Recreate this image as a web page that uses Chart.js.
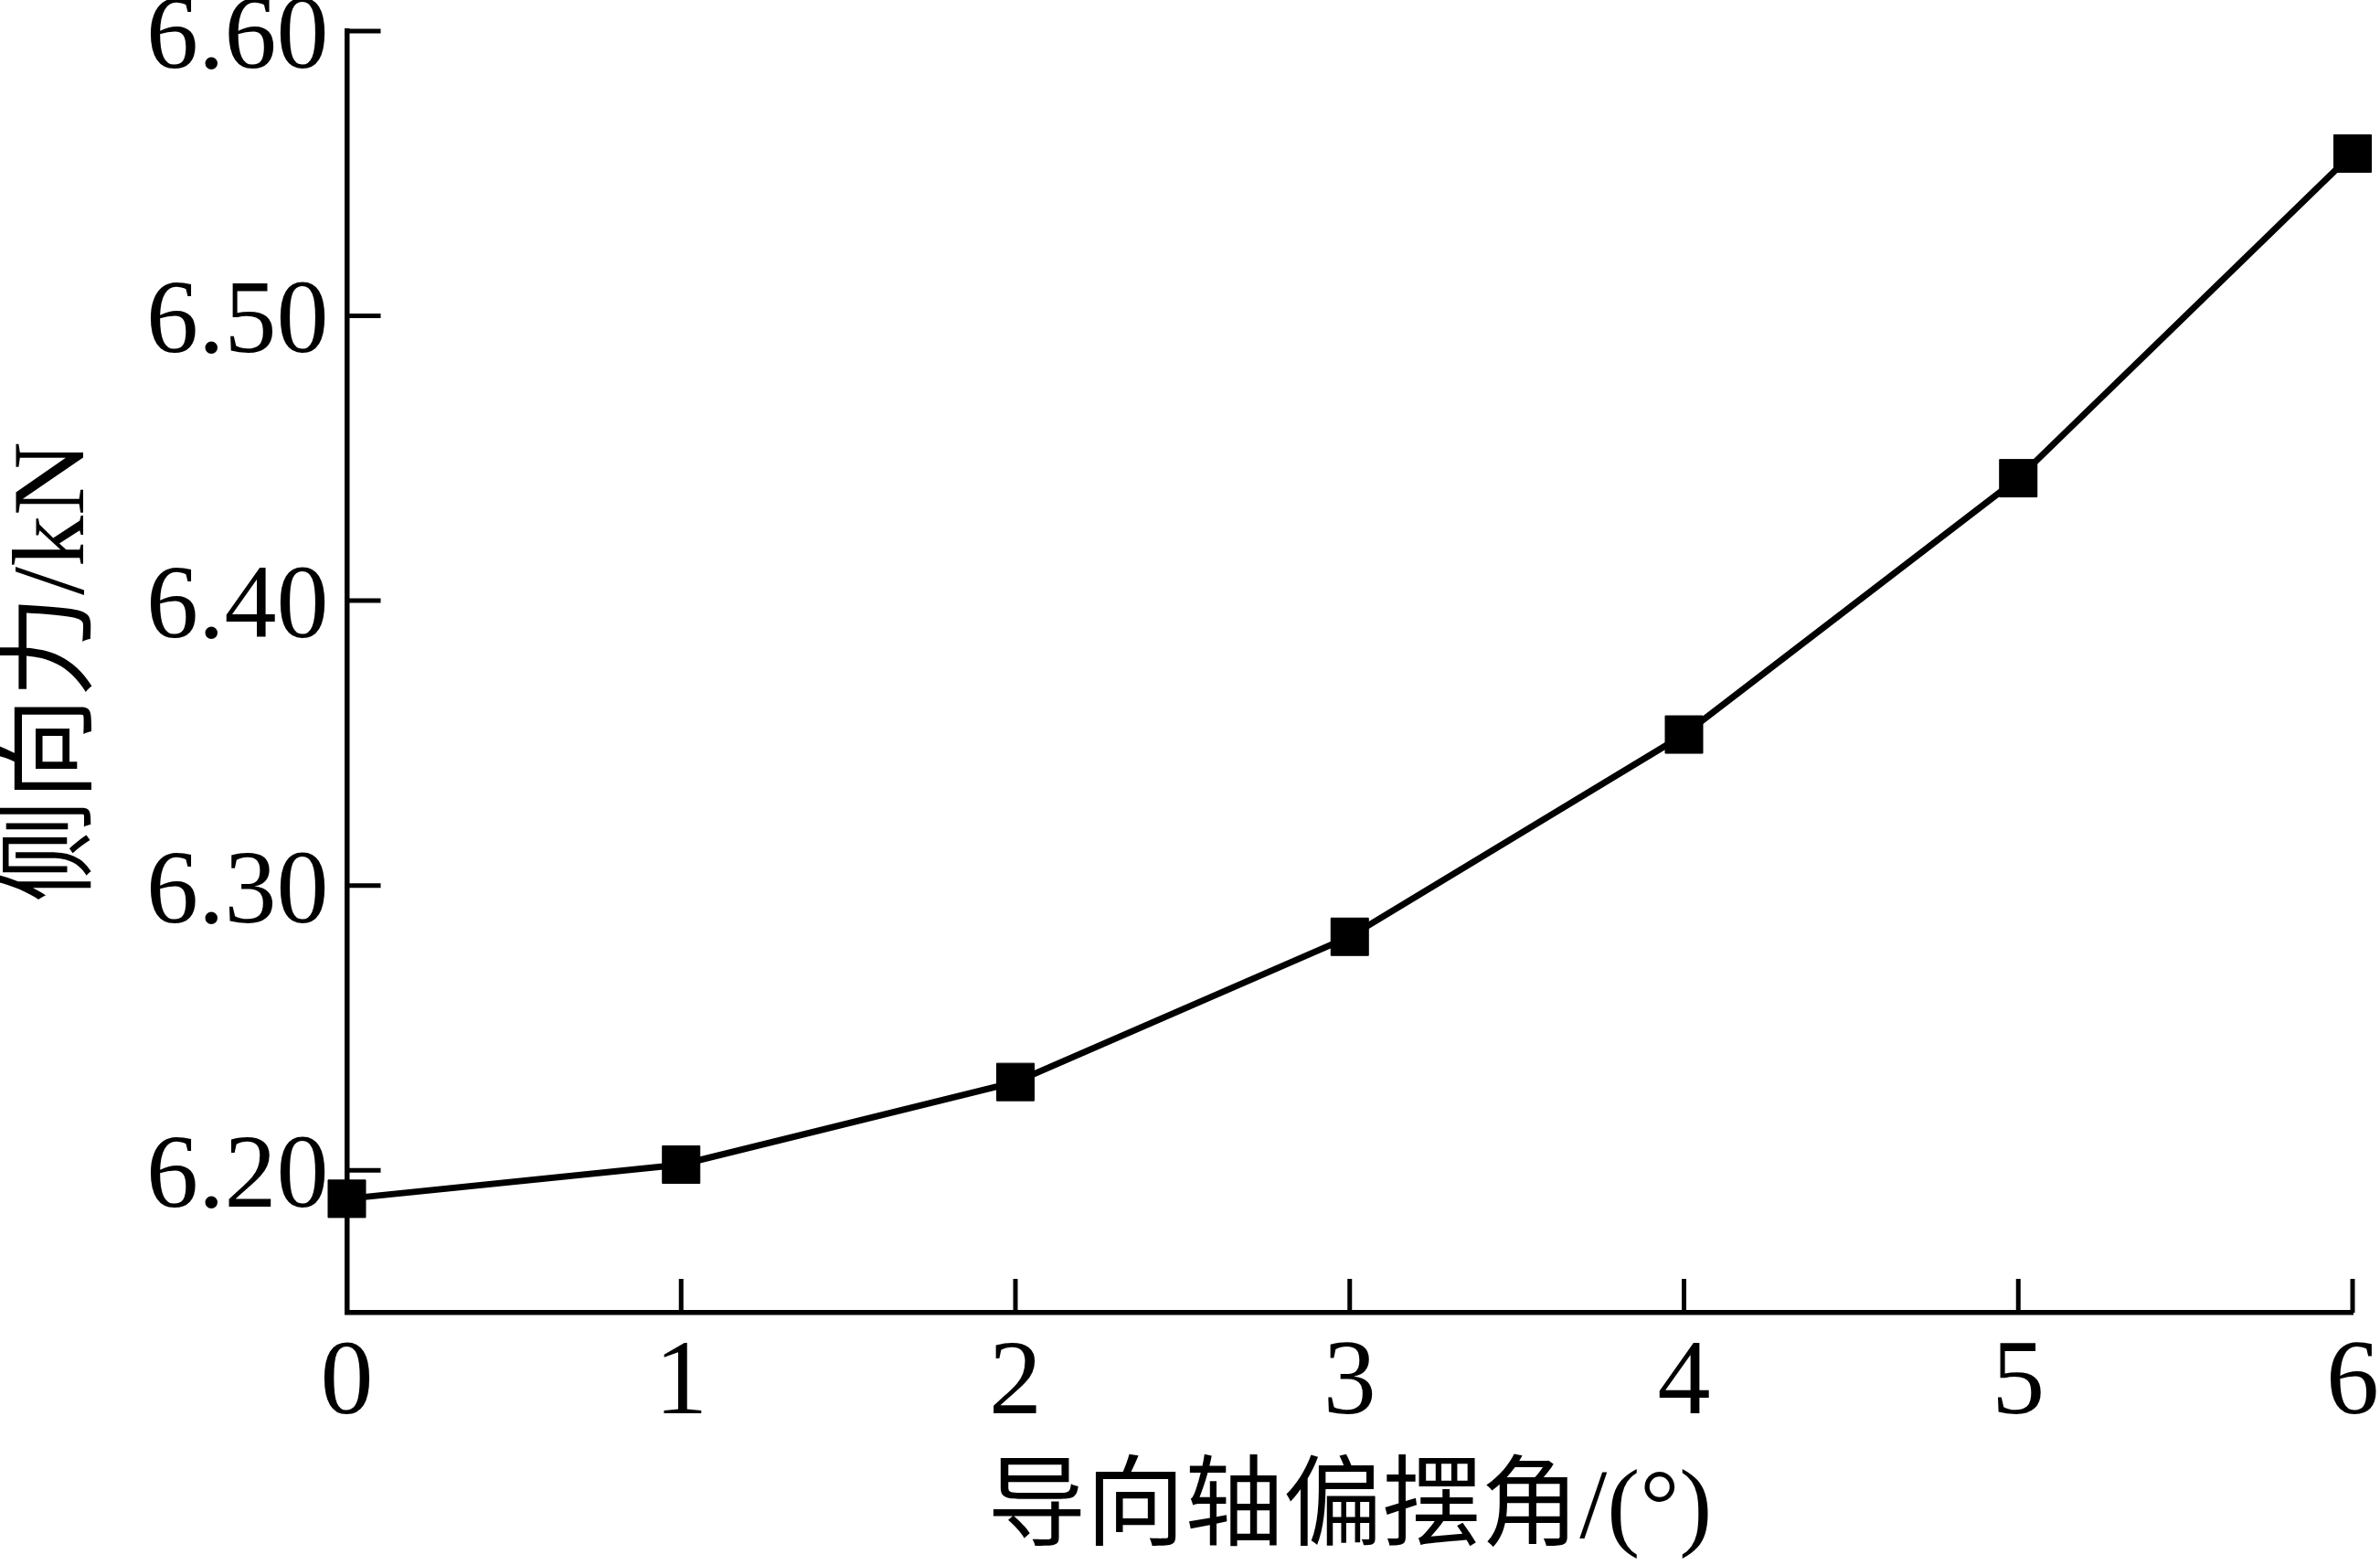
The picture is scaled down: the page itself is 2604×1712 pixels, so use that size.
<!DOCTYPE html>
<html>
<head>
<meta charset="utf-8">
<script src="https://cdn.jsdelivr.net/npm/chart.js@4"></script>
<style>
  html, body { margin: 0; padding: 0; background: #fff; }
  #wrap { width: 2604px; height: 1712px; }
</style>
</head>
<body>
<div id="wrap"><canvas id="chart"></canvas></div>
<script>
    /* --------------- Data --------------------- */
    const angles = [0, 1, 2, 3, 4, 5, 6];
    const sideForce = [6.190, 6.202, 6.231, 6.282, 6.353, 6.443, 6.557];
    const yTicks = [6.20, 6.30, 6.40, 6.50, 6.60];
    const xTitle = "导向轴偏摆角/(°)";
    const yTitle = "侧向力/kN";

    const FONT = '"Liberation Serif", "Times New Roman", "Noto Sans CJK SC", serif';

    /* --------------- Inward ticks --------------------- */
    const innerTicks = {
      id: "innerTicks",
      beforeDatasetsDraw(chart) {
        const ctx = chart.ctx;
        const xs = chart.scales.x, ys = chart.scales.y;
        const area = chart.chartArea;
        ctx.save();
        ctx.strokeStyle = "#000";
        ctx.lineWidth = 5;
        xs.ticks.forEach((t) => {
          const px = xs.getPixelForValue(t.value);
          ctx.beginPath();
          ctx.moveTo(px, area.bottom);
          ctx.lineTo(px, area.bottom - 37);
          ctx.stroke();
        });
        ys.ticks.forEach((t) => {
          const py = ys.getPixelForValue(t.value);
          ctx.beginPath();
          ctx.moveTo(area.left, py);
          ctx.lineTo(area.left + 37, py);
          ctx.stroke();
        });
        ctx.restore();
      },
    };

    /* --------------- Chart --------------------- */
    new Chart(document.getElementById("chart"), {
      type: "line",
      plugins: [innerTicks],
      data: {
        datasets: [
          {
            data: angles.map((a, i) => ({ x: a, y: sideForce[i] })),
            borderColor: "#000",
            backgroundColor: "#000",
            borderWidth: 7,
            pointStyle: "rect",
            pointRadius: 29,
            pointBorderWidth: 1,
            pointBackgroundColor: "#000",
            pointBorderColor: "#000",
            tension: 0,
            clip: false,
          },
        ],
      },
      options: {
        responsive: true,
        maintainAspectRatio: false,
        animation: false,
        layout: { padding: { top: 4, right: 0, left: 6, bottom: 4 } },
        plugins: {
          legend: { display: false },
          tooltip: { enabled: false },
        },
        scales: {
          x: {
            type: "linear",
            min: 0,
            max: 6,
            afterFit: (scale) => {
              scale.paddingRight = 29;
            },
            grid: { display: true, drawOnChartArea: false, drawTicks: false },
            border: { display: true, color: "#000", width: 5.5 },
            ticks: {
              stepSize: 1,
              color: "#000",
              padding: 22,
              font: { family: FONT, size: 116, lineHeight: 1.0 },
            },
            title: {
              display: true,
              text: xTitle,
              color: "#000",
              padding: { top: 4, bottom: 0 },
              font: { family: FONT, size: 108, lineHeight: 1.0 },
            },
          },
          y: {
            type: "linear",
            min: 6.15,
            max: 6.60,
            afterBuildTicks: (scale) => {
              scale.ticks = yTicks.map((v) => ({ value: v }));
            },
            afterFit: (scale) => {
              scale.paddingTop = 34;
            },
            grid: { display: true, drawOnChartArea: false, drawTicks: false },
            border: { display: true, color: "#000", width: 5.5 },
            ticks: {
              color: "#000",
              padding: 20,
              labelOffset: 10,
              font: { family: FONT, size: 114, lineHeight: 0.5 },
              callback: (v) => Number(v).toFixed(2),
            },
            title: {
              display: true,
              text: yTitle,
              color: "#000",
              padding: { top: 0, bottom: 22 },
              font: { family: FONT, size: 112, lineHeight: 1.0 },
            },
          },
        },
      },
    });
</script>
</body>
</html>
